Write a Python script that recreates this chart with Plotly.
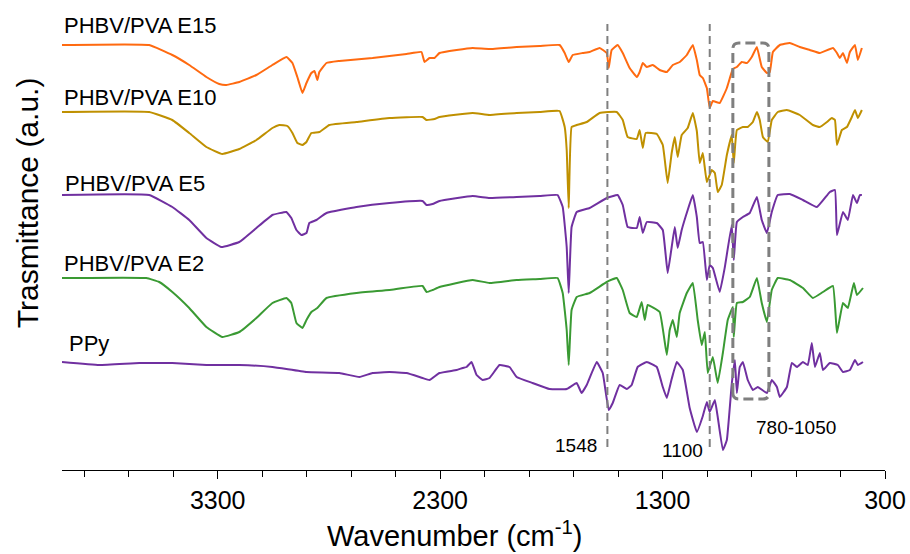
import plotly.graph_objects as go

# ---------------- data (wavenumber in cm-1, transmittance in a.u., stacked offsets) -------------
e15_w = [4000, 3608, 3504, 3428, 3351, 3293, 3261, 3203, 3126, 3054, 2991, 2964, 2942, 2919, 2901, 2879,
         2865, 2852, 2843, 2811, 2753, 2604, 2451, 2384, 2370, 2348, 2325, 2303, 2226, 2154, 2078, 1956,
         1853, 1763, 1740, 1722, 1704, 1659, 1628, 1583, 1551, 1542, 1529, 1502, 1479, 1448, 1416, 1403,
         1389, 1371, 1344, 1313, 1281, 1254, 1223, 1191, 1164, 1146, 1133, 1119, 1101, 1088, 1074, 1043,
         1011, 984, 966, 944, 921, 899, 876, 854, 831, 818, 804, 773, 728, 683, 638, 593, 534, 516,
         503, 489, 471, 458, 435, 422, 404]
e15_t = [425, 425, 415, 405, 393, 386, 385, 388, 395, 405, 413, 407, 393, 377, 387, 397,
         399, 390, 398, 407, 409, 412, 416, 418, 408, 412, 412, 417, 420, 422, 421, 423,
         424, 425, 417, 408, 415, 417, 418, 422, 417, 402, 420, 425, 417, 402, 393, 398,
         407, 403, 405, 400, 398, 405, 408, 415, 425, 410, 395, 392, 382, 362, 369, 367,
         382, 401, 403, 408, 407, 413, 423, 403, 397, 398, 418, 425, 427, 423, 420, 417, 422, 417,
         412, 417, 407, 418, 425, 410, 422]

e10_w = [4000, 3608, 3504, 3428, 3351, 3279, 3203, 3126, 3054, 3023, 2987, 2964, 2942, 2919, 2901, 2879,
         2843, 2798, 2676, 2528, 2379, 2361, 2325, 2303, 2154, 2078, 1956, 1853, 1763, 1740, 1731, 1722,
         1709, 1686, 1641, 1583, 1506, 1479, 1457, 1416, 1403, 1389, 1376, 1326, 1299, 1277, 1259, 1245,
         1232, 1214, 1187, 1164, 1146, 1133, 1119, 1101, 1079, 1065, 1052, 1034, 1011, 989, 980, 966,
         939, 917, 894, 876, 863, 849, 827, 809, 782, 741, 683, 624, 593, 561, 539, 525, 516, 494,
         471, 449, 435, 422, 404]
e10_t = [358, 358, 350, 337, 323, 316, 321, 330, 342, 345, 344, 337, 327, 325, 328, 337,
         338, 345, 348, 352, 353, 350, 351, 353, 357, 355, 357, 358, 359, 343, 320, 262,
         343, 345, 348, 357, 358, 350, 333, 331, 340, 322, 337, 336, 325, 287, 317, 333,
         313, 335, 342, 357, 339, 307, 317, 288, 300, 297, 278, 285, 315, 335, 307, 340,
         343, 343, 348, 358, 350, 333, 328, 350, 358, 360, 355, 345, 343, 348, 352, 350, 325, 340,
         343, 353, 360, 352, 360]

e5_w = [4000, 3608, 3504, 3428, 3351, 3284, 3203, 3126, 3054, 2991, 2969, 2946, 2924, 2901, 2888, 2856,
        2811, 2676, 2528, 2379, 2361, 2334, 2303, 2154, 2078, 1956, 1853, 1772, 1749, 1731, 1722, 1709,
        1686, 1628, 1551, 1502, 1479, 1457, 1416, 1403, 1389, 1371, 1326, 1299, 1277, 1259, 1245, 1232,
        1214, 1187, 1164, 1146, 1133, 1119, 1101, 1088, 1074, 1043, 1020, 989, 980, 966, 939, 908,
        876, 854, 831, 809, 782, 728, 669, 606, 548, 525, 516, 489, 467, 444, 426, 413, 404]
e5_t = [275, 275, 263, 250, 232, 223, 228, 242, 255, 258, 252, 240, 235, 237, 247, 250,
        257, 263, 267, 269, 265, 266, 269, 274, 272, 273, 274, 275, 263, 223, 177, 243,
        258, 262, 272, 275, 265, 243, 242, 253, 237, 248, 247, 240, 197, 223, 243, 222,
        240, 260, 275, 253, 227, 228, 190, 205, 202, 178, 203, 245, 210, 248, 253, 257,
        273, 250, 237, 258, 275, 276, 270, 263, 278, 280, 235, 258, 250, 275, 267, 275, 275]

e2_w = [4000, 3621, 3563, 3504, 3428, 3351, 3279, 3203, 3126, 3054, 2991, 2969, 2946, 2919, 2901, 2879,
        2852, 2811, 2676, 2528, 2379, 2361, 2334, 2303, 2154, 2078, 1956, 1853, 1772, 1749, 1731, 1722,
        1709, 1686, 1628, 1551, 1506, 1479, 1448, 1416, 1394, 1380, 1367, 1313, 1281, 1268, 1254, 1236,
        1223, 1191, 1164, 1142, 1124, 1110, 1097, 1074, 1052, 1029, 1007, 984, 980, 966, 939, 908,
        876, 854, 831, 809, 782, 728, 669, 624, 579, 534, 516, 489, 467, 440, 426, 399]
e2_t = [192, 192, 188, 178, 162, 143, 133, 138, 152, 167, 172, 167, 147, 142, 150, 158,
        162, 172, 177, 180, 184, 178, 180, 183, 190, 187, 190, 191, 192, 177, 140, 105,
        160, 173, 177, 188, 192, 180, 157, 153, 168, 150, 165, 158, 115, 140, 150, 133,
        157, 177, 187, 150, 125, 138, 97, 113, 87, 117, 150, 163, 133, 167, 168, 173,
        192, 167, 148, 180, 192, 190, 182, 172, 178, 184, 137, 167, 162, 187, 175, 182]

ppy_w = [4000, 3833, 3652, 3504, 3351, 3203, 3054, 2901, 2753, 2663, 2604, 2528, 2451, 2379, 2348, 2303,
         2226, 2199, 2181, 2159, 2136, 2109, 2078, 2033, 1988, 1956, 1884, 1808, 1731, 1686, 1664, 1641,
         1596, 1569, 1542, 1524, 1493, 1461, 1439, 1412, 1371, 1326, 1299, 1281, 1259, 1236, 1209, 1178,
         1146, 1119, 1101, 1088, 1065, 1052, 1029, 1011, 989, 975, 966, 953, 939, 917, 894, 872, 831,
         809, 786, 773, 741, 719, 696, 669, 647, 629, 615, 593, 579, 548, 512, 489, 458, 435, 422, 399]
ppy_t = [108, 105, 107, 107, 105, 105, 103, 98, 97, 93, 97, 98, 97, 92, 90, 97,
         100, 102, 103, 108, 95, 90, 92, 105, 103, 93, 87, 81, 81, 87, 77, 85,
         108, 97, 60, 67, 85, 81, 85, 103, 108, 103, 83, 72, 91, 108, 100, 62,
         38, 54, 68, 58, 70, 53, 20, 30, 86, 110, 77, 103, 108, 90, 80, 83, 77,
         90, 83, 73, 83, 107, 103, 108, 105, 127, 103, 117, 100, 107, 105, 98, 100, 110, 105, 108]

series_names = ["PHBV/PVA E15", "PHBV/PVA E10", "PHBV/PVA E5", "PHBV/PVA E2", "PPy"]
series_w = [e15_w, e10_w, e5_w, e2_w, ppy_w]
series_t = [e15_t, e10_t, e5_t, e2_t, ppy_t]
series_colors = ["#FF6A10", "#BF9000", "#7030A0", "#3A9A33", "#7030A0"]
label_w = [4000, 4000, 3996, 4000, 3976]
label_t = [445, 373, 287, 207, 127]

marker_lines = [1548, 1088]
marker_labels = ["1548", "1100"]
marker_label_pos = [(1690, 25), (1209, 20)]
box_w = [984, 822]
box_t = [71, 427]
box_label = "780-1050"
box_label_pos = (700, 43)

x_tickvals = [3300, 2300, 1300, 300]

# ---------------- figure ----------------
FONT = "Arial, Liberation Sans, sans-serif"
fig = go.Figure()
for name, w, t, c in zip(series_names, series_w, series_t, series_colors):
    fig.add_trace(go.Scatter(x=w, y=t, mode="lines", name=name,
                             line=dict(color=c, width=2, shape="spline", smoothing=0.3)))

for name, x, y in zip(series_names, label_w, label_t):
    fig.add_annotation(x=x, y=y, text=name, showarrow=False, xanchor="left", yanchor="middle",
                       font=dict(family=FONT, size=22, color="black"))

for xv in marker_lines:
    fig.add_shape(type="line", x0=xv, x1=xv, y0=23, y1=446, xref="x", yref="y",
                  line=dict(color="#7F7F7F", width=2, dash="8px,5px"))
for txt, (x, y) in zip(marker_labels, marker_label_pos):
    fig.add_annotation(x=x, y=y, text=txt, showarrow=False, xanchor="center", yanchor="middle",
                       font=dict(family=FONT, size=19, color="black"))

x0, x1 = box_w
y0, y1 = box_t
rx, ry = 27, 6
path = (f"M {x0},{y0+ry} L {x0},{y1-ry} Q {x0},{y1} {x0-rx},{y1} L {x1+rx},{y1} Q {x1},{y1} {x1},{y1-ry} "
        f"L {x1},{y0+ry} Q {x1},{y0} {x1+rx},{y0} L {x0-rx},{y0} Q {x0},{y0} {x0},{y0+ry} Z")
fig.add_shape(type="path", path=path, xref="x", yref="y",
              line=dict(color="#7F7F7F", width=3, dash="10px,5px"))
fig.add_annotation(x=box_label_pos[0], y=box_label_pos[1], text=box_label, showarrow=False,
                   xanchor="center", yanchor="middle", font=dict(family=FONT, size=19, color="black"))

# axis titles as annotations
fig.add_annotation(xref="paper", yref="paper", x=0.4775, y=-0.139, text="Wavenumber (cm<sup>-1</sup>)",
                   xanchor="center", yanchor="middle", showarrow=False,
                   font=dict(family=FONT, size=29, color="black"))
fig.add_annotation(xref="paper", yref="paper", x=-0.0425, y=0.58, text="Trasmittance (a.u.)",
                   xanchor="center", yanchor="middle", textangle=-90, showarrow=False,
                   font=dict(family=FONT, size=30, color="black"))

fig.update_layout(
    width=910, height=554,
    margin=dict(l=62, r=25, t=10, b=84, autoexpand=False),
    paper_bgcolor="white", plot_bgcolor="white",
    showlegend=False,
    xaxis=dict(range=[4000, 300], tickvals=x_tickvals, ticks="outside", ticklen=8, tickwidth=1.3,
               tickcolor="black", showline=True, linecolor="black", linewidth=1.3, showgrid=False,
               zeroline=False, automargin=False, tickfont=dict(family=FONT, size=25, color="black"),
               minor=dict(tick0=300, dtick=200, ticks="outside", ticklen=6, tickwidth=1.3, tickcolor="black",
                          showgrid=False)),
    yaxis=dict(range=[0, 460], showticklabels=False, showline=False, showgrid=False, zeroline=False,
               ticks="", automargin=False),
)

# remove the browser's default 8px page margin so the figure fills the 910x554 window
fig.write_html("out.html", config={"displayModeBar": False},
               post_script="document.body.style.margin='0';document.body.style.overflow='hidden';")
